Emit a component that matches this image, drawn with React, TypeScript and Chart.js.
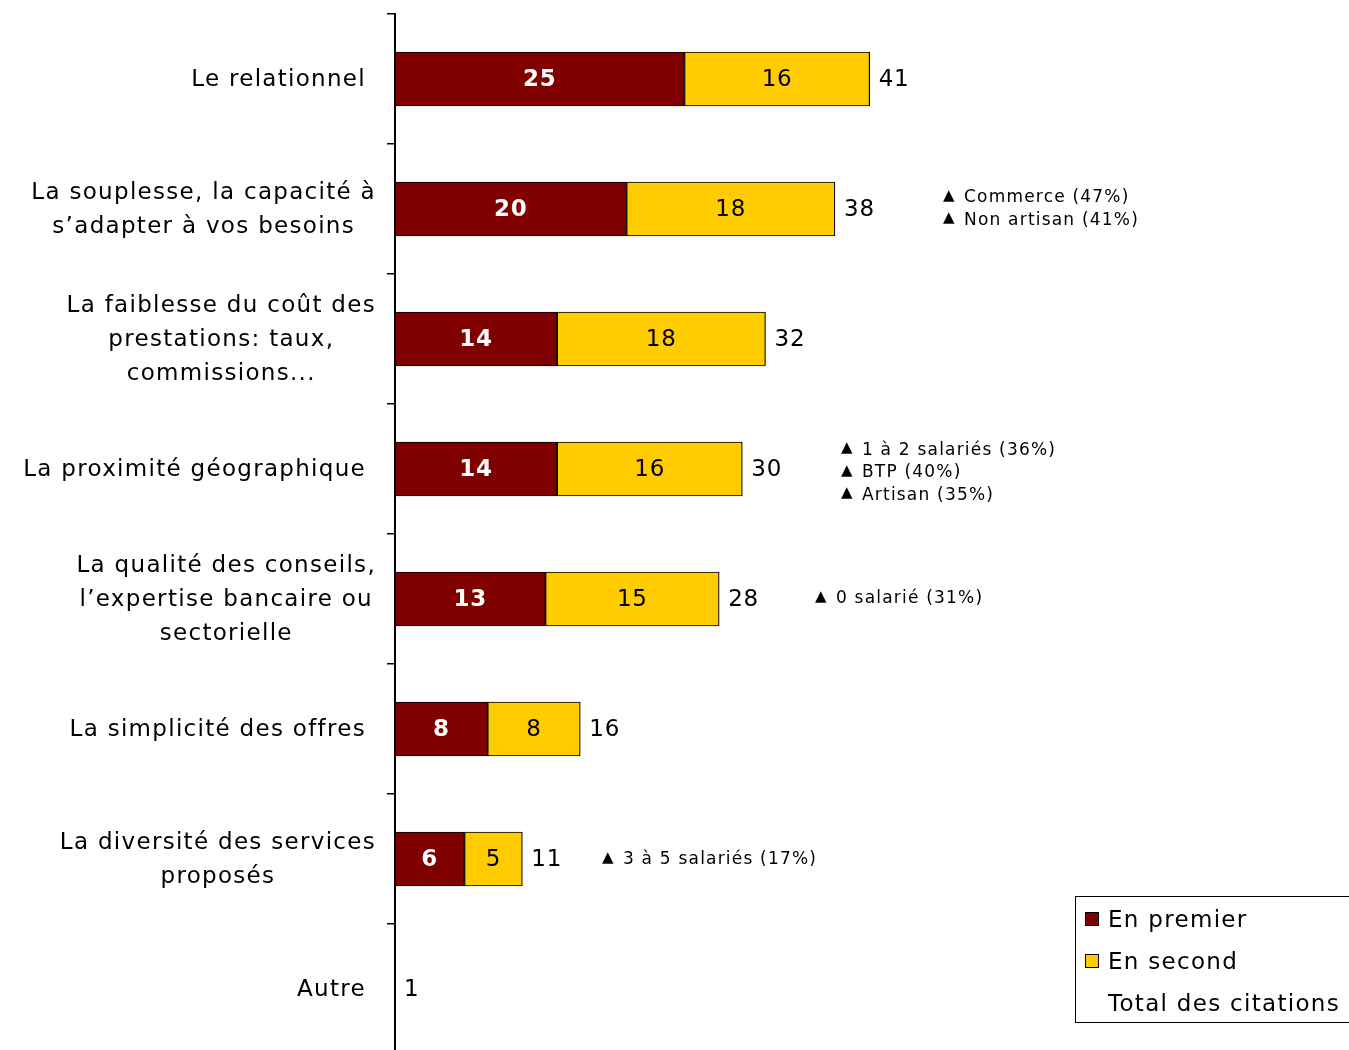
import React, { useEffect, useRef } from "react";
import { Chart, registerables } from "chart.js";

Chart.register(...registerables);

const categories: string[][] = [
  ["Le relationnel"],
  ["La souplesse, la capacité à", "s’adapter à vos besoins"],
  ["La faiblesse du coût des", "prestations: taux,", "commissions..."],
  ["La proximité géographique"],
  ["La qualité des conseils,", "l’expertise bancaire ou", "sectorielle"],
  ["La simplicité des offres"],
  ["La diversité des services", "proposés"],
  ["Autre"],
];
const premier = [25, 20, 14, 14, 13, 8, 6, 0];
const second = [16, 18, 18, 16, 15, 8, 5, 0];
const totals = [41, 38, 32, 30, 28, 16, 11, 1];
const seriesNames = ["En premier", "En second", "Total des citations"];
const notes: string[][] = [
  [],
  ["Commerce (47%)", "Non artisan (41%)"],
  [],
  ["1 à 2 salariés (36%)", "BTP (40%)", "Artisan (35%)"],
  ["0 salarié (31%)"],
  [],
  ["3 à 5 salariés (17%)"],
  [],
];

const FONT = "'DejaVu Sans', Verdana, sans-serif";
const noteX = [0, 943, 0, 841, 815, 0, 602, 0];
const noteDy = [0, 0, 0, 4, 0, 0, 1, 0];

const drawPlugin = {
  id: "customText",
  afterDraw(chart: any) {
    const ctx = chart.ctx as CanvasRenderingContext2D;
    const yScale = chart.scales.y;
    ctx.save();
    ctx.fillStyle = "#000";
    ctx.textBaseline = "middle";
    // category labels
    ctx.font = `23px ${FONT}`;
    (ctx as any).letterSpacing = "1.3px";
    categories.forEach((lines, i) => {
      const cy = yScale.getPixelForValue(i);
      const lh = 34;
      const widths = lines.map((l) => ctx.measureText(l).width);
      const maxW = Math.max(...widths);
      const right = lines.length > 1 ? 376 : 366;
      const cx = right - maxW / 2;
      ctx.textAlign = "center";
      lines.forEach((l, k) => {
        const y = cy + (k - (lines.length - 1) / 2) * lh + 1;
        ctx.fillText(l, cx, y);
      });
    });
    // bar labels
    const m0 = chart.getDatasetMeta(0);
    const m1 = chart.getDatasetMeta(1);
    ctx.textAlign = "center";
    (ctx as any).letterSpacing = "0.8px";
    premier.forEach((v, i) => {
      if (!v) return;
      const el = m0.data[i];
      ctx.font = `bold 23px ${FONT}`;
      ctx.fillStyle = "#fff";
      ctx.fillText(String(v), (el.x + el.base) / 2, el.y + 1);
    });
    second.forEach((v, i) => {
      if (!v) return;
      const el = m1.data[i];
      ctx.font = `23px ${FONT}`;
      ctx.fillStyle = "#000";
      ctx.fillText(String(v), (el.x + el.base) / 2, el.y + 1);
    });
    ctx.textAlign = "left";
    ctx.fillStyle = "#000";
    ctx.font = `23px ${FONT}`;
    totals.forEach((t, i) => {
      const el = m1.data[i];
      ctx.fillText(String(t), el.x + 9, el.y + 1);
    });
    // notes
    notes.forEach((ls, i) => {
      if (!ls.length) return;
      const cy = yScale.getPixelForValue(i) + noteDy[i];
      const lh = 22.5;
      ls.forEach((l, k) => {
        const y = cy + (k - (ls.length - 1) / 2) * lh;
        (ctx as any).letterSpacing = "0px";
        ctx.font = `15px ${FONT}`;
        ctx.fillText("▲", noteX[i], y - 2);
        (ctx as any).letterSpacing = "1.2px";
        ctx.font = `17px ${FONT}`;
        ctx.fillText(l, noteX[i] + 21, y);
      });
    });
    // legend
    const lx = 1075.5, ly = 896.5;
    ctx.fillStyle = "#fff";
    ctx.fillRect(lx, ly, 300, 126);
    ctx.strokeStyle = "#000";
    ctx.lineWidth = 1;
    ctx.strokeRect(lx, ly, 300, 126);
    (ctx as any).letterSpacing = "1.3px";
    ctx.font = `23px ${FONT}`;
    seriesNames.forEach((name, k) => {
      const y = 920 + k * 42;
      const ds = chart.data.datasets[k];
      if (ds) {
        ctx.fillStyle = ds.backgroundColor;
        ctx.fillRect(1085.5, y - 7.5, 13, 13);
        ctx.strokeRect(1085.5, y - 7.5, 13, 13);
      }
      ctx.fillStyle = "#000";
      ctx.fillText(name, 1108, y + 1);
    });
    ctx.restore();
  },
};

export default function App() {
  const ref = useRef<HTMLCanvasElement>(null);
  useEffect(() => {
    if (!ref.current) return;
    const chart = new Chart(ref.current, {
      type: "bar",
      data: {
        labels: categories.map((c) => c.join(" ")),
        datasets: [
          {
            label: seriesNames[0],
            data: premier,
            backgroundColor: "#800000",
            borderColor: "#000",
            borderWidth: 1.2,
            borderSkipped: false,
            barThickness: 54,
          },
          {
            label: seriesNames[1],
            data: second,
            backgroundColor: "#FFCC00",
            borderColor: "#000",
            borderWidth: 1.2,
            borderSkipped: false,
            barThickness: 54,
          },
        ],
      },
      options: {
        indexAxis: "y",
        responsive: false,
        animation: false,
        devicePixelRatio: 1,
        layout: { padding: { top: 14, left: 0, right: 0, bottom: 0 } },
        plugins: { legend: { display: false }, tooltip: { enabled: false } },
        scales: {
          x: { display: false, stacked: true, min: 0, max: 82.4 },
          y: {
            stacked: true,
            offset: true,
            afterFit: (s: any) => {
              s.width = 395;
            },
            ticks: { display: false },
            grid: {
              offset: true,
              drawOnChartArea: false,
              drawTicks: true,
              tickLength: 8,
              color: "#000",
              lineWidth: 1.5,
            },
            border: { display: true, color: "#000", width: 2 },
          },
        },
      },
      plugins: [drawPlugin],
    } as any);
    return () => chart.destroy();
  }, []);
  return (
    <div
      style={{
        position: "absolute",
        left: 0,
        top: 0,
        width: 1349,
        height: 1050,
        overflow: "hidden",
        background: "#fff",
      }}
    >
      <canvas ref={ref} width={1349} height={1054} style={{ display: "block", width: 1349, height: 1054 }} />
    </div>
  );
}
